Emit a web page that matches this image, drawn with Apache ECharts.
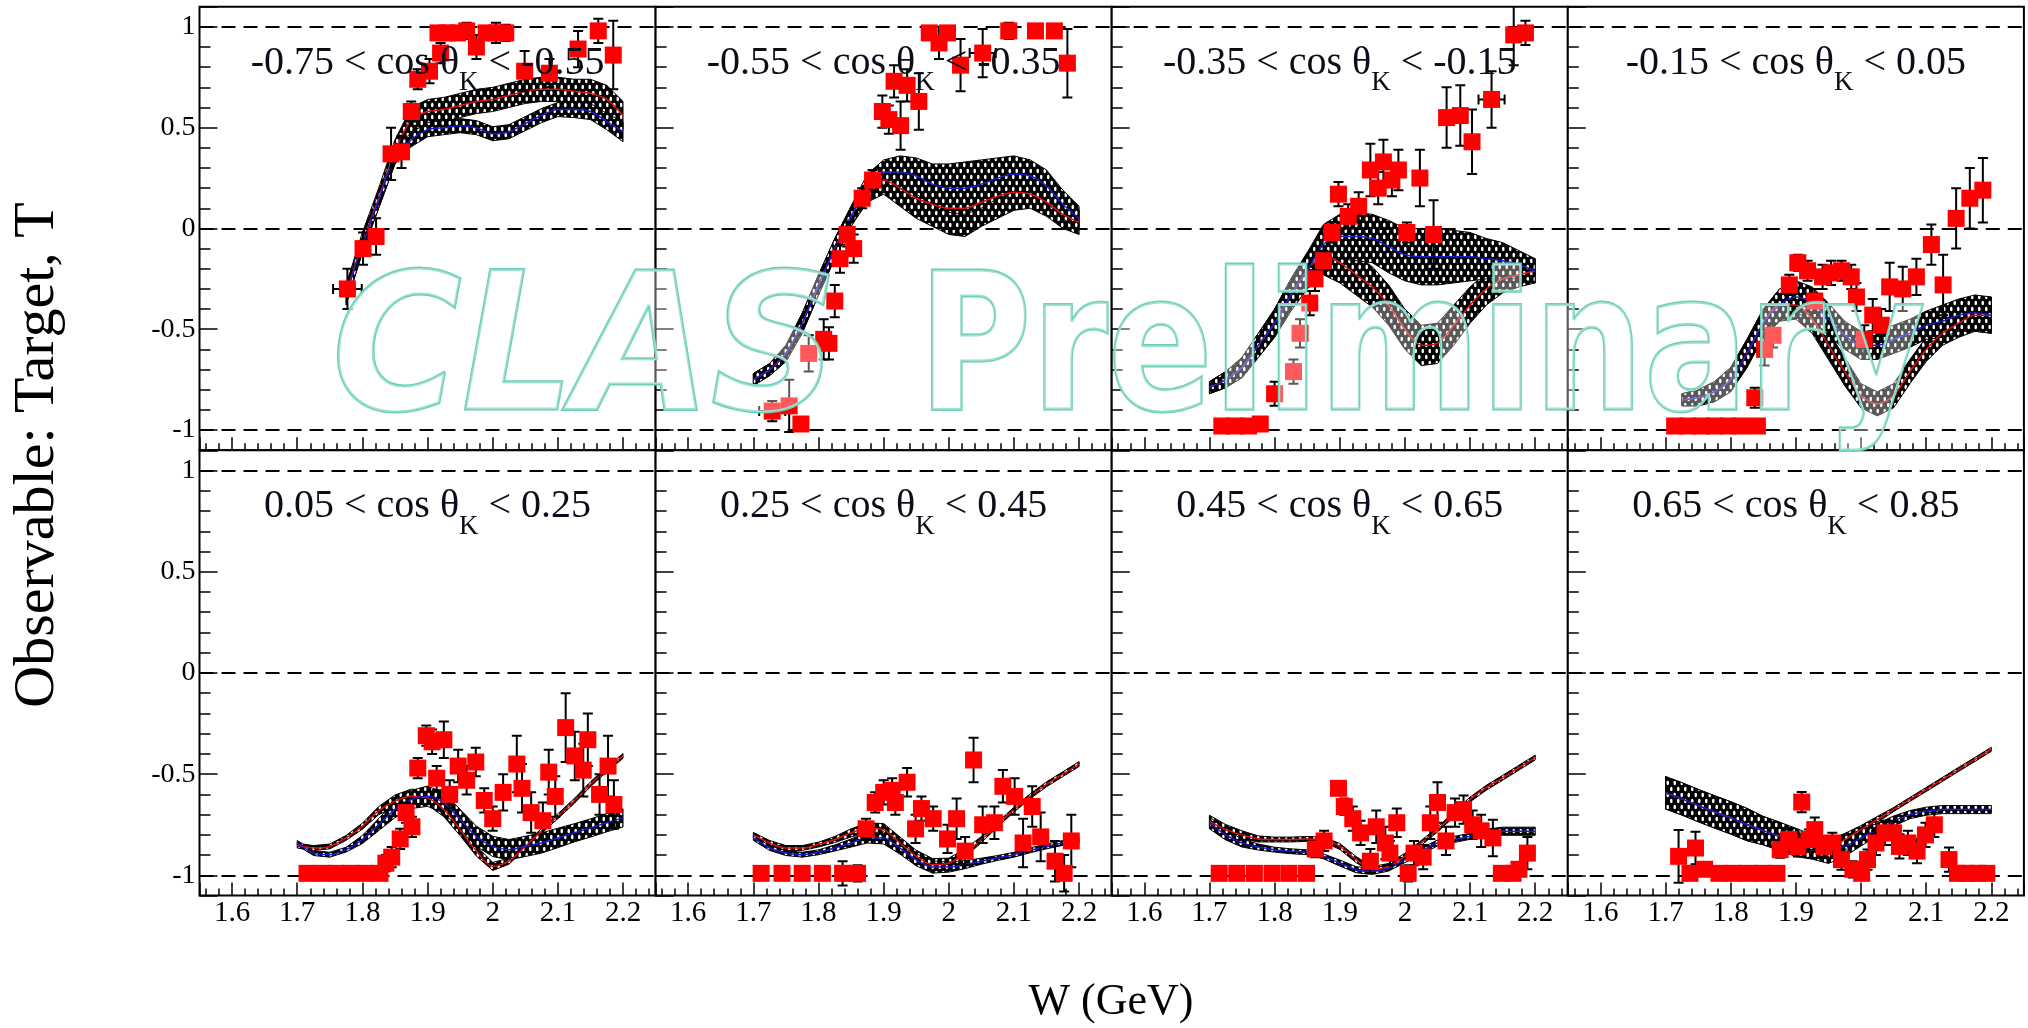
<!DOCTYPE html>
<html><head><meta charset="utf-8">
<script src="https://cdn.jsdelivr.net/npm/echarts@6/dist/echarts.min.js"></script>
<style>html,body{margin:0;padding:0;background:#fff;}#c{width:2028px;height:1028px;}</style>
</head><body><div id="c"></div>
<script>
// ---------------- DATA ----------------
const COS_BINS = ['-0.75','-0.55','-0.35','-0.15','0.05','0.25','0.45','0.65','0.85'];
const REF_LEVELS = [1, 0, -1];
const BAND_W = [1.70,1.725,1.75,1.775,1.80,1.825,1.85,1.875,1.90,1.925,1.95,1.975,2.00,2.025,2.05,2.075,2.10,2.125,2.15,2.175,2.20];

// data points: [W, T, errT, errW]
const pts1 = [[1.777,-0.30,0.10,0.022],[1.801,-0.10,0.08,0],[1.821,-0.04,0.09,0],[1.844,0.37,0.13,0],[1.860,0.38,0.08,0],[1.875,0.58,0.05,0],[1.885,0.74,0.05,0],[1.903,0.78,0.06,0],[1.916,0.97,0.03,0],[1.920,0.87,0.05,0],[1.930,0.97,0.03,0],[1.946,0.97,0.03,0],[1.960,0.98,0.04,0],[1.975,0.90,0.06,0],[1.990,0.97,0.03,0],[2.005,0.97,0.05,0],[2.020,0.97,0.04,0],[2.049,0.78,0.10,0],[2.087,0.77,0.07,0],[2.131,0.89,0.09,0],[2.162,0.98,0.06,0],[2.185,0.86,0.17,0]];
const pts2 = [[1.729,-0.906,0.05,0.02],[1.755,-0.88,0.13,0],[1.773,-0.97,0.03,0],[1.785,-0.62,0.09,0],[1.808,-0.55,0.10,0],[1.816,-0.57,0.08,0],[1.825,-0.36,0.08,0],[1.833,-0.15,0.07,0],[1.844,-0.03,0.06,0],[1.854,-0.10,0.07,0],[1.867,0.15,0.05,0],[1.883,0.24,0.05,0],[1.898,0.58,0.08,0],[1.908,0.54,0.07,0],[1.926,0.51,0.12,0],[1.916,0.73,0.08,0],[1.936,0.71,0.08,0],[1.954,0.63,0.14,0],[1.970,0.97,0.03,0],[1.985,0.92,0.08,0],[1.998,0.97,0.03,0],[2.018,0.81,0.13,0],[2.052,0.87,0.12,0.02],[2.092,0.98,0.04,0],[2.133,0.98,0.03,0],[2.162,0.98,0.03,0],[2.182,0.82,0.17,0]];
const pts3 = [[1.719,-0.98,0.02,0],[1.739,-0.98,0.02,0],[1.760,-0.98,0.02,0],[1.778,-0.97,0.03,0],[1.800,-0.82,0.06,0],[1.829,-0.71,0.06,0],[1.839,-0.52,0.07,0],[1.854,-0.37,0.06,0],[1.862,-0.25,0.06,0],[1.875,-0.16,0.05,0],[1.888,-0.02,0.05,0],[1.898,0.17,0.06,0],[1.913,0.06,0.06,0],[1.929,0.11,0.07,0],[1.947,0.29,0.13,0],[1.967,0.33,0.11,0],[1.959,0.20,0.08,0],[1.980,0.24,0.08,0],[1.990,0.29,0.10,0],[2.003,-0.02,0.05,0],[2.023,0.25,0.14,0],[2.044,-0.03,0.17,0],[2.064,0.55,0.15,0],[2.085,0.56,0.15,0],[2.103,0.43,0.16,0],[2.133,0.64,0.14,0.02],[2.167,0.96,0.15,0],[2.185,0.97,0.06,0]];
const pts4 = [[1.714,-0.98,0.02,0],[1.734,-0.98,0.02,0],[1.755,-0.98,0.02,0],[1.775,-0.98,0.02,0],[1.796,-0.98,0.02,0],[1.816,-0.98,0.02,0],[1.837,-0.84,0.05,0],[1.841,-0.98,0.03,0],[1.852,-0.60,0.08,0],[1.865,-0.53,0.06,0],[1.890,-0.28,0.05,0],[1.903,-0.17,0.04,0],[1.918,-0.21,0.05,0],[1.929,-0.36,0.06,0],[1.941,-0.24,0.06,0],[1.954,-0.22,0.06,0],[1.970,-0.21,0.05,0],[1.985,-0.24,0.06,0],[1.993,-0.34,0.07,0],[2.005,-0.55,0.07,0],[2.018,-0.43,0.08,0],[2.031,-0.48,0.08,0],[2.044,-0.29,0.12,0],[2.064,-0.30,0.11,0],[2.085,-0.24,0.09,0],[2.108,-0.08,0.10,0],[2.126,-0.28,0.15,0],[2.146,0.05,0.15,0],[2.167,0.15,0.15,0],[2.187,0.19,0.16,0]];
const pts5 = [[1.715,-0.99,0.02,0],[1.738,-0.99,0.03,0],[1.760,-0.99,0.02,0],[1.782,-0.99,0.02,0],[1.804,-0.99,0.02,0],[1.827,-0.99,0.03,0],[1.836,-0.94,0.04,0],[1.845,-0.91,0.05,0],[1.858,-0.82,0.05,0],[1.867,-0.69,0.05,0],[1.876,-0.76,0.05,0],[1.885,-0.47,0.05,0],[1.898,-0.31,0.05,0],[1.907,-0.34,0.06,0],[1.925,-0.33,0.09,0],[1.914,-0.52,0.06,0],[1.934,-0.60,0.07,0],[1.947,-0.46,0.08,0],[1.960,-0.53,0.07,0],[1.974,-0.44,0.07,0],[1.987,-0.63,0.06,0],[2.000,-0.72,0.06,0],[2.016,-0.59,0.09,0],[2.037,-0.45,0.14,0],[2.045,-0.57,0.12,0],[2.059,-0.69,0.10,0],[2.077,-0.73,0.09,0],[2.086,-0.49,0.11,0],[2.096,-0.61,0.10,0],[2.112,-0.27,0.17,0],[2.126,-0.41,0.12,0],[2.139,-0.48,0.13,0],[2.146,-0.33,0.13,0],[2.164,-0.60,0.10,0],[2.177,-0.46,0.15,0],[2.186,-0.65,0.12,0]];
const pts6 = [[1.712,-0.99,0.03,0],[1.744,-0.99,0.02,0],[1.775,-0.99,0.02,0],[1.806,-0.99,0.02,0],[1.837,-0.99,0.06,0],[1.860,-0.99,0.04,0],[1.873,-0.77,0.05,0],[1.887,-0.64,0.05,0],[1.900,-0.59,0.06,0],[1.913,-0.58,0.06,0],[1.918,-0.64,0.06,0],[1.936,-0.54,0.07,0],[1.949,-0.77,0.07,0],[1.958,-0.67,0.06,0],[1.976,-0.72,0.06,0],[1.998,-0.82,0.07,0],[2.012,-0.72,0.10,0],[2.025,-0.88,0.07,0],[2.038,-0.43,0.11,0],[2.052,-0.75,0.09,0],[2.070,-0.74,0.08,0],[2.083,-0.56,0.08,0],[2.101,-0.61,0.09,0],[2.114,-0.84,0.12,0],[2.128,-0.66,0.10,0],[2.141,-0.81,0.12,0],[2.163,-0.93,0.10,0],[2.177,-0.99,0.09,0],[2.188,-0.83,0.13,0]];
const pts7 = [[1.715,-0.99,0.02,0],[1.742,-0.99,0.02,0],[1.769,-0.99,0.02,0],[1.796,-0.99,0.02,0],[1.822,-0.99,0.02,0],[1.849,-0.99,0.02,0],[1.8625,-0.87,0.04,0],[1.876,-0.83,0.05,0],[1.898,-0.57,0.03,0],[1.907,-0.66,0.04,0],[1.920,-0.72,0.06,0],[1.932,-0.79,0.06,0],[1.947,-0.93,0.06,0],[1.956,-0.76,0.08,0],[1.970,-0.84,0.08,0],[1.977,-0.89,0.06,0],[1.9875,-0.74,0.07,0],[2.005,-0.99,0.04,0],[2.014,-0.89,0.06,0],[2.028,-0.91,0.06,0],[2.039,-0.74,0.08,0],[2.050,-0.64,0.10,0],[2.063,-0.83,0.07,0],[2.077,-0.69,0.07,0],[2.090,-0.675,0.07,0],[2.104,-0.75,0.07,0],[2.117,-0.78,0.08,0],[2.135,-0.815,0.09,0],[2.148,-0.99,0.03,0],[2.166,-0.99,0.03,0],[2.175,-0.97,0.03,0],[2.188,-0.89,0.08,0]];
const pts8 = [[1.720,-0.906,0.13,0],[1.7375,-0.99,0.03,0],[1.746,-0.865,0.08,0],[1.760,-0.97,0.03,0],[1.782,-0.99,0.02,0],[1.804,-0.99,0.02,0],[1.827,-0.99,0.02,0],[1.849,-0.99,0.03,0],[1.871,-0.99,0.03,0],[1.876,-0.873,0.04,0],[1.889,-0.823,0.05,0],[1.903,-0.857,0.05,0],[1.909,-0.638,0.05,0],[1.920,-0.823,0.05,0],[1.929,-0.774,0.06,0],[1.943,-0.857,0.05,0],[1.956,-0.84,0.05,0],[1.970,-0.922,0.05,0],[1.9875,-0.97,0.04,0],[2.001,-0.99,0.03,0],[2.010,-0.922,0.05,0],[2.023,-0.84,0.06,0],[2.037,-0.79,0.06,0],[2.050,-0.79,0.06,0],[2.059,-0.857,0.06,0],[2.072,-0.84,0.06,0],[2.086,-0.88,0.06,0],[2.099,-0.80,0.06,0],[2.1125,-0.75,0.06,0],[2.135,-0.922,0.06,0],[2.148,-0.99,0.03,0],[2.162,-0.99,0.03,0],[2.179,-0.99,0.03,0],[2.193,-0.99,0.03,0]];

// model bands on BAND_W: centre (C) and half width (H); red and blue solutions
const red1C  = [null,null,null,-0.33,-0.07,0.15,0.38,0.54,0.58,0.59,0.61,0.63,0.64,0.66,0.68,0.69,0.69,0.68,0.67,0.64,0.56];
const red1H  = [null,null,null,0.05,0.05,0.05,0.06,0.06,0.06,0.06,0.06,0.06,0.06,0.06,0.06,0.06,0.06,0.06,0.07,0.07,0.07];
const blue1C = [null,null,null,-0.33,-0.08,0.14,0.36,0.44,0.49,0.50,0.51,0.50,0.47,0.48,0.52,0.56,0.59,0.59,0.58,0.53,0.48];
const blue1H = [null,null,null,0.04,0.04,0.04,0.04,0.035,0.035,0.035,0.035,0.035,0.035,0.035,0.035,0.035,0.035,0.04,0.04,0.04,0.05];

const red2C  = [-0.75,-0.70,-0.62,-0.47,-0.28,-0.10,0.06,0.19,0.24,0.20,0.15,0.12,0.10,0.10,0.13,0.16,0.18,0.17,0.13,0.07,0.03];
const red2H  = [0.03,0.03,0.04,0.05,0.05,0.05,0.05,0.06,0.07,0.09,0.10,0.11,0.13,0.14,0.12,0.11,0.09,0.07,0.07,0.07,0.06];
const blue2C = [-0.75,-0.70,-0.62,-0.47,-0.28,-0.10,0.06,0.21,0.28,0.28,0.26,0.22,0.20,0.20,0.22,0.25,0.27,0.26,0.21,0.12,0.05];
const blue2H = [0.03,0.03,0.04,0.05,0.05,0.05,0.05,0.06,0.06,0.08,0.09,0.10,0.12,0.13,0.12,0.10,0.09,0.08,0.08,0.07,0.06];

const red3C  = [-0.79,-0.75,-0.69,-0.58,-0.47,-0.33,-0.21,-0.13,-0.17,-0.23,-0.29,-0.38,-0.50,-0.58,-0.57,-0.48,-0.38,-0.30,-0.25,-0.23,-0.21];
const red3H  = [0.03,0.04,0.05,0.06,0.07,0.08,0.09,0.10,0.10,0.10,0.10,0.10,0.10,0.10,0.10,0.10,0.09,0.08,0.07,0.06,0.06];
const blue3C = [-0.79,-0.75,-0.69,-0.58,-0.47,-0.33,-0.21,-0.08,-0.04,-0.04,-0.05,-0.09,-0.13,-0.14,-0.14,-0.14,-0.14,-0.15,-0.16,-0.18,-0.21];
const blue3H = [0.03,0.04,0.05,0.06,0.07,0.08,0.09,0.10,0.11,0.12,0.12,0.13,0.13,0.14,0.14,0.13,0.12,0.10,0.09,0.07,0.06];

const red4C  = [null,-0.85,-0.84,-0.81,-0.75,-0.62,-0.47,-0.38,-0.38,-0.45,-0.58,-0.71,-0.83,-0.87,-0.83,-0.71,-0.60,-0.52,-0.47,-0.43,-0.43];
const red4H  = [null,0.03,0.04,0.05,0.06,0.07,0.07,0.08,0.07,0.07,0.07,0.07,0.06,0.06,0.06,0.06,0.06,0.06,0.07,0.08,0.09];
const blue4C = [null,-0.85,-0.84,-0.81,-0.75,-0.62,-0.47,-0.38,-0.34,-0.37,-0.45,-0.53,-0.58,-0.58,-0.55,-0.52,-0.48,-0.46,-0.43,-0.42,-0.43];
const blue4H = [null,0.03,0.04,0.05,0.06,0.07,0.07,0.08,0.08,0.08,0.08,0.07,0.07,0.07,0.07,0.07,0.07,0.08,0.08,0.09,0.09];

const red5C  = [-0.853,-0.865,-0.857,-0.815,-0.757,-0.68,-0.633,-0.609,-0.617,-0.675,-0.774,-0.88,-0.956,-0.93,-0.857,-0.78,-0.708,-0.633,-0.55,-0.476,-0.41];
const red5H  = [0.012,0.012,0.012,0.012,0.015,0.02,0.03,0.035,0.035,0.035,0.03,0.025,0.02,0.015,0.012,0.012,0.012,0.012,0.012,0.012,0.012];
const blue5C = [-0.84,-0.89,-0.898,-0.873,-0.823,-0.749,-0.675,-0.625,-0.609,-0.642,-0.724,-0.807,-0.857,-0.873,-0.857,-0.84,-0.815,-0.79,-0.766,-0.74,-0.716];
const blue5H = [0.012,0.012,0.012,0.012,0.02,0.03,0.04,0.045,0.05,0.05,0.05,0.05,0.05,0.05,0.05,0.05,0.048,0.045,0.045,0.045,0.045];

const red6C  = [-0.80,-0.84,-0.865,-0.865,-0.848,-0.823,-0.79,-0.766,-0.774,-0.84,-0.906,-0.947,-0.94,-0.89,-0.823,-0.749,-0.675,-0.609,-0.55,-0.50,-0.45];
const red6H  = [0.012,0.012,0.012,0.012,0.012,0.015,0.02,0.025,0.03,0.03,0.03,0.03,0.025,0.02,0.015,0.012,0.012,0.012,0.012,0.012,0.012];
const blue6C = [-0.815,-0.865,-0.89,-0.898,-0.886,-0.865,-0.84,-0.815,-0.815,-0.865,-0.923,-0.959,-0.959,-0.947,-0.93,-0.914,-0.898,-0.876,-0.857,-0.84,-0.827];
const blue6H = [0.012,0.012,0.012,0.012,0.012,0.015,0.02,0.025,0.03,0.03,0.03,0.03,0.025,0.02,0.015,0.012,0.012,0.012,0.012,0.012,0.012];

const red7C  = [-0.733,-0.774,-0.80,-0.82,-0.823,-0.823,-0.82,-0.823,-0.857,-0.922,-0.972,-0.956,-0.906,-0.84,-0.774,-0.70,-0.625,-0.567,-0.518,-0.468,-0.418];
const red7H  = [0.03,0.025,0.02,0.015,0.012,0.012,0.012,0.012,0.015,0.015,0.015,0.015,0.015,0.012,0.012,0.012,0.012,0.012,0.012,0.012,0.012];
const blue7C = [-0.74,-0.80,-0.84,-0.86,-0.873,-0.881,-0.886,-0.906,-0.939,-0.972,-0.98,-0.964,-0.922,-0.881,-0.84,-0.823,-0.807,-0.79,-0.782,-0.782,-0.782];
const blue7H = [0.03,0.025,0.02,0.015,0.012,0.012,0.012,0.012,0.015,0.015,0.015,0.015,0.015,0.015,0.015,0.015,0.015,0.018,0.02,0.02,0.02];

const red8C  = [-0.592,-0.622,-0.655,-0.686,-0.716,-0.749,-0.779,-0.807,-0.837,-0.86,-0.865,-0.823,-0.774,-0.724,-0.675,-0.625,-0.576,-0.526,-0.476,-0.427,-0.377];
const red8H  = [0.08,0.08,0.08,0.08,0.08,0.08,0.07,0.07,0.06,0.05,0.04,0.03,0.02,0.015,0.01,0.01,0.01,0.01,0.01,0.01,0.01];
const blue8C = [-0.592,-0.622,-0.655,-0.686,-0.716,-0.749,-0.779,-0.807,-0.837,-0.86,-0.881,-0.857,-0.815,-0.774,-0.732,-0.70,-0.683,-0.675,-0.675,-0.675,-0.675];
const blue8H = [0.08,0.08,0.08,0.08,0.08,0.08,0.07,0.07,0.07,0.06,0.06,0.05,0.04,0.03,0.025,0.02,0.02,0.02,0.02,0.02,0.02];

const PTS = [pts1,pts2,pts3,pts4,pts5,pts6,pts7,pts8];
const RED_C = [red1C,red2C,red3C,red4C,red5C,red6C,red7C,red8C];
const RED_H = [red1H,red2H,red3H,red4H,red5H,red6H,red7H,red8H];
const BLUE_C = [blue1C,blue2C,blue3C,blue4C,blue5C,blue6C,blue7C,blue8C];
const BLUE_H = [blue1H,blue2H,blue3H,blue4H,blue5H,blue6H,blue7H,blue8H];

// ---------------- LAYOUT / STYLE ----------------
const GL = 199.5, GW = 456.1;
const ROW_TOP = [6.7, 450.3], ROW_H = [443.5, 445.3];
const SERIF = 'Liberation Serif';

function makePattern(){
  const c = document.createElement('canvas'); c.width = 7; c.height = 12;
  const g = c.getContext('2d');
  g.fillStyle = '#000'; g.fillRect(0,0,7,12);
  g.fillStyle = '#fff';
  g.beginPath(); g.ellipse(1.75,3,1.3,2.2,0,0,Math.PI*2); g.fill();
  g.beginPath(); g.ellipse(5.25,9,1.3,2.2,0,0,Math.PI*2); g.fill();
  return c;
}
const PATTERN = {image: makePattern(), repeat: 'repeat'};

function bandRender(C, H){
  return function(params, api){
    const lo = [], hi = [];
    for (let j = 0; j < BAND_W.length; j++){
      if (C[j] == null) continue;
      lo.push(api.coord([BAND_W[j], C[j]-H[j]]));
      hi.push(api.coord([BAND_W[j], C[j]+H[j]]));
    }
    return {type:'polygon', shape:{points: lo.concat(hi.reverse())}, style:{fill: PATTERN, stroke:'#000', lineWidth:1}};
  };
}
function errRender(pts){
  return function(params, api){
    const p = pts[params.dataIndex];
    const st = {stroke:'#000', lineWidth:2};
    const t = api.coord([p[0], p[1]+p[2]]), b = api.coord([p[0], p[1]-p[2]]);
    const ch = [
      {type:'line', shape:{x1:t[0],y1:t[1],x2:b[0],y2:b[1]}, style:st},
      {type:'line', shape:{x1:t[0]-5,y1:t[1],x2:t[0]+5,y2:t[1]}, style:st},
      {type:'line', shape:{x1:b[0]-5,y1:b[1],x2:b[0]+5,y2:b[1]}, style:st}
    ];
    if (p[3] > 0){
      const l = api.coord([p[0]-p[3], p[1]]), r = api.coord([p[0]+p[3], p[1]]);
      ch.push({type:'line', shape:{x1:l[0],y1:l[1],x2:r[0],y2:r[1]}, style:st});
      ch.push({type:'line', shape:{x1:l[0],y1:l[1]-5,x2:l[0],y2:l[1]+5}, style:st});
      ch.push({type:'line', shape:{x1:r[0],y1:r[1]-5,x2:r[0],y2:r[1]+5}, style:st});
    }
    return {type:'group', children: ch};
  };
}
function pairs(C){ const out = []; BAND_W.forEach((w,j)=>{ if (C[j] != null) out.push([w, C[j]]); }); return out; }

const grids = [], xAxes = [], yAxes = [], series = [], graphics = [];
for (let i = 0; i < 8; i++){
  const r = Math.floor(i/4), c = i % 4;
  grids.push({left: GL + c*GW, top: ROW_TOP[r], width: GW, height: ROW_H[r], show: true, borderColor:'#000', borderWidth: 2, backgroundColor:'#fff'});
  xAxes.push({gridIndex:i, type:'value', min:1.55, max:2.25, position:'bottom',
    axisLine:{show:false, onZero:false}, splitLine:{show:false},
    axisTick:{show:true, inside:true, length:13, lineStyle:{color:'#000', width:1.5}},
    minorTick:{show:true, splitNumber:5, length:7, lineStyle:{color:'#000', width:1.5}},
    axisLabel:{show: r === 1, fontFamily: SERIF, fontSize: 29, color:'#000', margin: 3,
      formatter: v => (Math.abs(v*10 - Math.round(v*10)) < 1e-6 ? String(Math.round(v*10)/10) : '')}
  });
  yAxes.push({gridIndex:i, type:'value', min:-1.1, max:1.1, position:'left',
    axisLine:{show:false, onZero:false}, splitLine:{show:false},
    axisTick:{show:true, inside:true, length:18, lineStyle:{color:'#000', width:1.5}},
    minorTick:{show:true, splitNumber:5, length:11, lineStyle:{color:'#000', width:1.5}},
    axisLabel:{show: c === 0, fontFamily: SERIF, fontSize: 28, color:'#000', margin: 4,
      formatter: v => (Math.abs(v*2 - Math.round(v*2)) < 1e-6 ? String(Math.round(v*2)/2) : '')}
  });
  [[RED_C[i], RED_H[i]], [BLUE_C[i], BLUE_H[i]]].forEach(([C,H]) => {
    series.push({type:'custom', xAxisIndex:i, yAxisIndex:i, coordinateSystem:'cartesian2d', clip:true, z:2, silent:true,
      data:[[BAND_W[0], 0]], renderItem: bandRender(C,H)});
  });
  series.push({type:'line', xAxisIndex:i, yAxisIndex:i, z:3, showSymbol:false, smooth:0.3, silent:true,
    data: pairs(RED_C[i]), lineStyle:{color:'#e01010', width:1.5}});
  series.push({type:'line', xAxisIndex:i, yAxisIndex:i, z:3, showSymbol:false, smooth:0.3, silent:true,
    data: pairs(BLUE_C[i]), lineStyle:{color:'#1a1ad0', width:1.5}});
  series.push({type:'custom', xAxisIndex:i, yAxisIndex:i, coordinateSystem:'cartesian2d', clip:true, z:4, silent:true,
    data: PTS[i].map(p => [p[0], p[1], p[2], p[3]]), encode:{x:0, y:1}, renderItem: errRender(PTS[i]),
    markLine:{silent:true, symbol:['none','none'], label:{show:false}, animation:false,
      lineStyle:{type:[14,8], color:'#000', width:2}, data: REF_LEVELS.map(v => ({yAxis: v}))}
  });
  series.push({type:'scatter', xAxisIndex:i, yAxisIndex:i, z:5, symbol:'rect', symbolSize:17, silent:true,
    itemStyle:{color:'#ff0000', opacity:1}, data: PTS[i].map(p => [p[0], p[1]])});
  graphics.push({type:'text', z:50, x: GL + c*GW + GW/2, y: ROW_TOP[r] + 56.5,
    style:{text: COS_BINS[i] + ' < cos θ{k|K} < ' + COS_BINS[i+1], fontFamily: SERIF, fontSize: 40, fill:'#0d0d1a',
      align:'center', verticalAlign:'middle', rich:{k:{fontFamily: SERIF, fontSize: 27, fill:'#0d0d1a', padding:[40,0,0,0]}}}});
}
graphics.push({type:'text', z:50, x: 38, y: 455, rotation: Math.PI/2,
  style:{text:'Observable: Target, T', fontFamily: SERIF, fontSize: 58, fill:'#000', align:'center', verticalAlign:'middle'}});
graphics.push({type:'text', z:50, x: 1111, y: 1002,
  style:{text:'W (GeV)', fontFamily: SERIF, fontSize: 44, fill:'#000', align:'center', verticalAlign:'middle'}});
// watermark
const WM = {fontFamily:'DejaVu Sans', fontWeight:'bold', fontSize:190, fill:'rgba(255,255,255,0.35)', stroke:'#6fd0ba', lineWidth:3, align:'left', verticalAlign:'middle'};
graphics.push({type:'text', z:100, x: 332, y: 360, scaleX: 0.93,
  style: Object.assign({text:'CLAS', fontStyle:'italic'}, WM)});
graphics.push({type:'text', z:100, x: 918, y: 360, scaleX: 0.815,
  style: Object.assign({text:'Preliminary'}, WM)});

const chart = echarts.init(document.getElementById('c'), null, {renderer:'canvas'});
chart.setOption({
  animation:false,
  backgroundColor:'#fff',
  textStyle:{fontFamily: SERIF},
  grid: grids, xAxis: xAxes, yAxis: yAxes, series: series, graphic: graphics
});
</script></body></html>
